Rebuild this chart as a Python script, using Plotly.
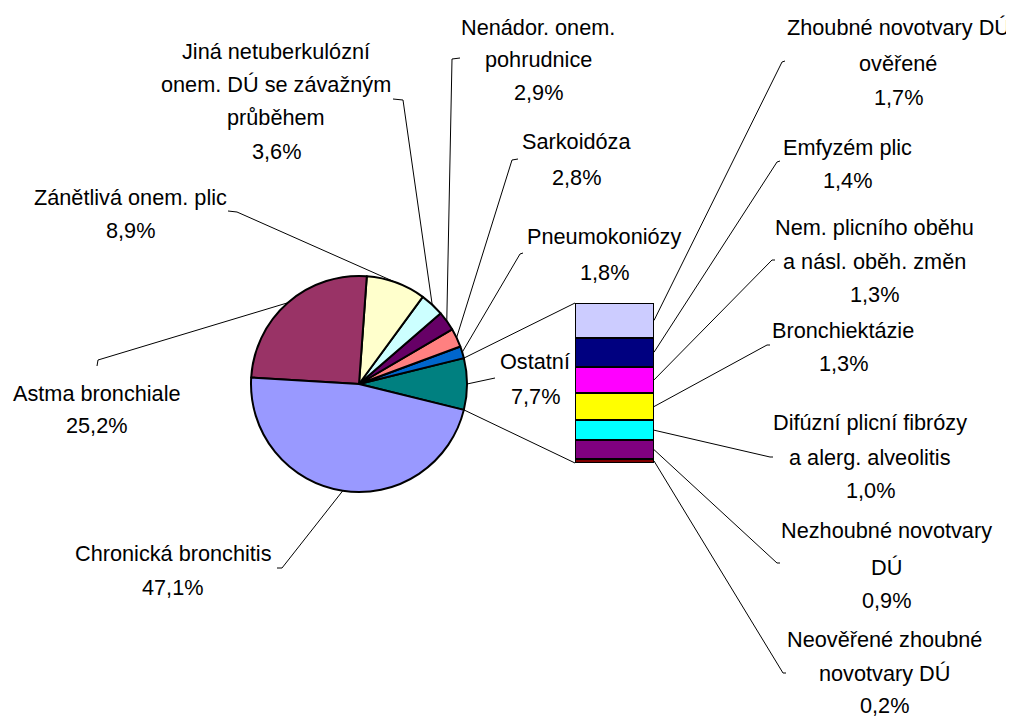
import math
import plotly.graph_objects as go

# page body has an 8px margin; the figure is sized to fit the 1014x720 window
OFF = 8
W, H = 1014 - OFF, 720 - OFF

# ---------------- data ----------------
pie_labels = ["Ostatní", "Pneumokoniózy", "Sarkoidóza", "Nenádor. onem. pohrudnice",
              "Jiná netuberkulózní onem. DÚ se závažným průběhem", "Zánětlivá onem. plic",
              "Astma bronchiale", "Chronická bronchitis"]
pie_values = [7.7, 1.8, 2.8, 2.9, 3.6, 8.9, 25.2, 47.1]
pie_colors = ["#008080", "#0066CC", "#FF8080", "#660066", "#CCFFFF", "#FFFFCC", "#993366", "#9999FF"]

bar_labels = ["Neověřené zhoubné novotvary DÚ", "Nezhoubné novotvary DÚ",
              "Difúzní plicní fibrózy a alerg. alveolitis", "Bronchiektázie",
              "Nem. plicního oběhu a násl. oběh. změn", "Emfyzém plic",
              "Zhoubné novotvary DÚ ověřené"]
bar_values = [0.2, 0.9, 1.0, 1.3, 1.3, 1.4, 1.7]
bar_colors = ["#800000", "#800080", "#00FFFF", "#FFFF00", "#FF00FF", "#000080", "#CCCCFF"]

# label text broken into lines (layout)
pie_label_lines = [["Ostatní"], ["Pneumokoniózy"], ["Sarkoidóza"], ["Nenádor. onem.", "pohrudnice"],
                   ["Jiná netuberkulózní", "onem. DÚ se závažným", "průběhem"], ["Zánětlivá onem. plic"],
                   ["Astma bronchiale"], ["Chronická bronchitis"]]
bar_label_lines = [["Neověřené zhoubné", "novotvary DÚ"], ["Nezhoubné novotvary", "DÚ"],
                   ["Difúzní plicní fibrózy", "a alerg. alveolitis"], ["Bronchiektázie"],
                   ["Nem. plicního oběhu", "a násl. oběh. změn"], ["Emfyzém plic"],
                   ["Zhoubné novotvary DÚ", "ověřené"]]

# ---------------- layout geometry (window pixels) ----------------
PIE_CX, PIE_CY, PIE_R = 359, 384, 108
BAR_X0, BAR_X1, BAR_TOP, BAR_BOT = 575, 654, 303, 463

# label placement: center x, line center ys, leader polyline start points
pie_label_pos = [
    (535, [361, 396], [(495, 378)]),
    (604, [237, 272], [(523, 253), (520, 254)]),
    (576, [141, 178], [(518, 159), (512, 160)]),
    (538, [27, 60, 93], [(460, 58), (452, 59)]),
    (276, [51, 84, 118, 151], [(393, 99), (403, 100)]),
    (130, [198, 230], [(228, 211), (237, 212)]),
    (97, [393, 425], [(97, 366), (98, 360)]),
    (173, [553, 587], [(277, 568), (282, 568)]),
]
bar_label_pos = [
    (884, [639, 673, 705], [(786, 673), (783, 673)]),
    (886, [530, 567, 600], [(780, 563), (777, 563)]),
    (870, [423, 457, 490], [(773, 457), (770, 457)]),
    (843, [330, 363], [(770, 345), (767, 345)]),
    (874, [228, 262, 295], [(775, 260), (772, 260)]),
    (847, [147, 180], [(780, 161), (777, 162)]),
    (898, [28, 63, 97], [(785, 61), (782, 62)]),
]

FONT = dict(family="Liberation Sans, Arial, sans-serif", size=21.7, color="black")


def px(x):
    return (x - OFF) / W


def py(y):
    return 1 - (y - OFF) / H


def pct(v):
    return f"{v:.1f}".replace(".", ",") + "%"


# pie orientation: first slice (Ostatní) centered at 3 o'clock, others counterclockwise
total = sum(pie_values)
first_deg = pie_values[0] / total * 360
rotation = 90 - first_deg / 2

fig = go.Figure()
fig.add_trace(go.Pie(
    labels=pie_labels, values=pie_values, sort=False, direction="counterclockwise",
    rotation=rotation, textinfo="none", hoverinfo="label+percent",
    marker=dict(colors=pie_colors, line=dict(color="black", width=2)),
    domain=dict(x=[px(PIE_CX - PIE_R), px(PIE_CX + PIE_R)], y=[py(PIE_CY + PIE_R), py(PIE_CY - PIE_R)]),
    showlegend=False,
))

for lab, v, c in zip(bar_labels, bar_values, bar_colors):
    fig.add_trace(go.Bar(
        x=["Ostatní"], y=[v], name=lab, marker=dict(color=c, line=dict(color="black", width=2)),
        width=1, showlegend=False, hoverinfo="name+y",
    ))

bar_total = sum(bar_values)

# slice mid-angle points (angle from 3 o'clock, counterclockwise, degrees)
slice_mid_pts = []
start = -first_deg / 2
for v in pie_values:
    span = v / total * 360
    mid = math.radians(start + span / 2)
    slice_mid_pts.append((PIE_CX + PIE_R * math.cos(mid), PIE_CY - PIE_R * math.sin(mid)))
    start += span

# bar segment mid points
bar_mid_pts = []
cum = 0
for v in bar_values:
    m = cum + v / 2
    bar_mid_pts.append((BAR_X1, BAR_BOT - m / bar_total * (BAR_BOT - BAR_TOP)))
    cum += v

shapes = []


def polyline(points):
    for (x0, y0), (x1, y1) in zip(points[:-1], points[1:]):
        shapes.append(dict(type="line", xref="paper", yref="paper", x0=px(x0), y0=py(y0), x1=px(x1), y1=py(y1),
                           line=dict(color="black", width=1), layer="above"))


annotations = []


def label(cx, ys, lines):
    for t, y in zip(lines, ys):
        annotations.append(dict(x=px(cx), y=py(y), xref="paper", yref="paper", text=t, showarrow=False,
                                xanchor="center", yanchor="middle", font=FONT))


for i, v in enumerate(pie_values):
    cx, ys, pts = pie_label_pos[i]
    label(cx, ys, pie_label_lines[i] + [pct(v)])
    polyline(pts + [slice_mid_pts[i]])

for i, v in enumerate(bar_values):
    cx, ys, pts = bar_label_pos[i]
    label(cx, ys, bar_label_lines[i] + [pct(v)])
    polyline(pts + [bar_mid_pts[i]])

# connector lines from Ostatní slice edges to bar corners
a_top = math.radians(first_deg / 2)
a_bot = math.radians(-first_deg / 2)
polyline([(PIE_CX + PIE_R * math.cos(a_top), PIE_CY - PIE_R * math.sin(a_top)), (BAR_X0, BAR_TOP)])
polyline([(PIE_CX + PIE_R * math.cos(a_bot), PIE_CY - PIE_R * math.sin(a_bot)), (BAR_X0, BAR_BOT)])

fig.update_layout(
    width=W, height=H, margin=dict(l=0, r=0, t=0, b=0),
    paper_bgcolor="white", plot_bgcolor="white",
    barmode="stack", bargap=0,
    xaxis=dict(domain=[px(BAR_X0), px(BAR_X1)], range=[-0.5, 0.5], visible=False, fixedrange=True),
    yaxis=dict(domain=[py(BAR_BOT), py(BAR_TOP)], range=[0, bar_total], visible=False, fixedrange=True),
    shapes=shapes, annotations=annotations,
)

fig.write_html("out.html")
